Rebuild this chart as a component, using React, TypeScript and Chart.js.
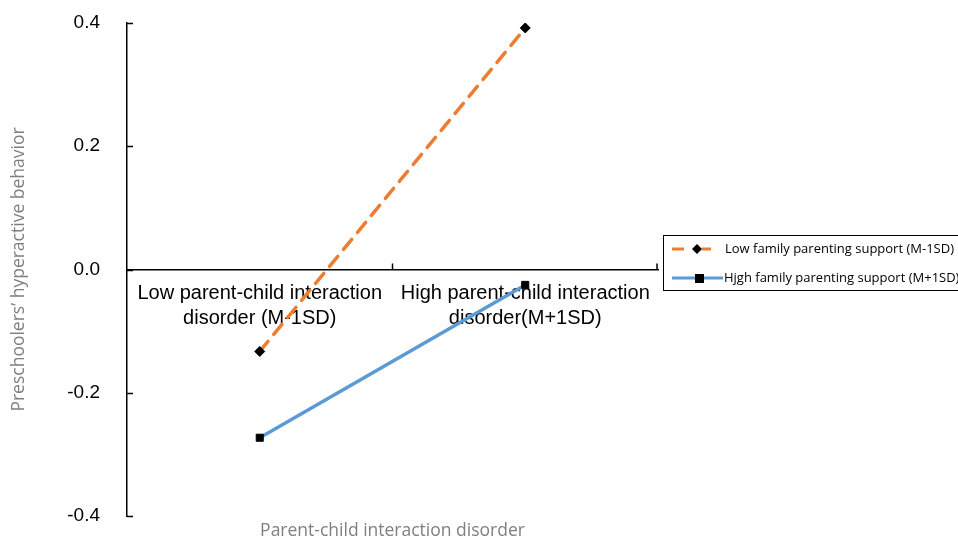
import React, { useEffect, useRef } from "react";
import { Chart, registerables } from "chart.js";

Chart.register(...registerables);

const categories: string[][] = [
  ["Low parent-child interaction", "disorder (M-1SD)"],
  ["High parent-child interaction", "disorder(M+1SD)"],
];
const lowSupport: number[] = [-0.133, 0.392];
const highSupport: number[] = [-0.273, -0.025];
const seriesNames: string[] = [
  "Low family parenting support (M-1SD)",
  "Hjgh family parenting support (M+1SD)",
];
const yTitle = "Preschoolers\u2019 hyperactive behavior";
const xTitle = "Parent-child interaction disorder";

const ORANGE = "#ED7D31";
const BLUE = "#5B9BD5";

const tickMarks = {
  id: "tickMarks",
  afterDraw(chart: any) {
    const ctx = chart.ctx;
    const x = chart.scales.x;
    const y = chart.scales.y;
    const area = chart.chartArea;
    ctx.save();
    ctx.strokeStyle = "#000";
    ctx.lineWidth = 1.5;
    y.ticks.forEach((t: any) => {
      const py = Math.round(y.getPixelForValue(t.value)) + 0.5;
      ctx.beginPath();
      ctx.moveTo(area.left, py);
      ctx.lineTo(area.left + 6, py);
      ctx.stroke();
    });
    const y0 = y.getPixelForValue(0);
    const p0 = x.getPixelForValue(0);
    const p1 = x.getPixelForValue(1);
    const bounds = [(p0 + p1) / 2, area.right - 1];
    bounds.forEach((bx) => {
      ctx.beginPath();
      ctx.moveTo(bx, y0);
      ctx.lineTo(bx, y0 - 6);
      ctx.stroke();
    });
    ctx.restore();
  },
};

const boxLegend = {
  id: "boxLegend",
  afterDraw(chart: any) {
    const ctx = chart.ctx;
    const area = chart.chartArea;
    const bx = area.right + 5;
    const by = 235;
    const bw = 330;
    const bh = 55;
    ctx.save();
    ctx.strokeStyle = "#000";
    ctx.lineWidth = 1;
    ctx.strokeRect(bx + 0.5, by + 0.5, bw, bh);
    ctx.font = "13px 'Open Sans'";
    ctx.textBaseline = "middle";
    ctx.fillStyle = "#000";
    const rows = [by + 14, by + 43];
    chart.data.datasets.forEach((ds: any, i: number) => {
      const ry = rows[i];
      ctx.strokeStyle = ds.borderColor;
      ctx.lineWidth = 3;
      ctx.lineCap = "butt";
      if (i === 0) {
        ctx.beginPath();
        ctx.moveTo(bx + 9, ry);
        ctx.lineTo(bx + 21, ry);
        ctx.moveTo(bx + 39, ry);
        ctx.lineTo(bx + 48, ry);
        ctx.stroke();
        ctx.fillStyle = "#000";
        ctx.beginPath();
        ctx.moveTo(bx + 29, ry);
        ctx.lineTo(bx + 34, ry - 5);
        ctx.lineTo(bx + 39, ry);
        ctx.lineTo(bx + 34, ry + 5);
        ctx.closePath();
        ctx.fill();
        ctx.fillText(ds.label, bx + 62, ry);
      } else {
        ctx.beginPath();
        ctx.moveTo(bx + 9, ry);
        ctx.lineTo(bx + 60, ry);
        ctx.stroke();
        ctx.fillStyle = "#000";
        ctx.fillRect(bx + 32, ry - 4, 9, 9);
        ctx.fillText(ds.label, bx + 61, ry);
      }
    });
    ctx.restore();
  },
};

export default function App() {
  const ref = useRef<HTMLCanvasElement | null>(null);
  useEffect(() => {
    if (!ref.current) return;
    const chart = new Chart(ref.current, {
      type: "line",
      data: {
        labels: categories as any,
        datasets: [
          {
            label: seriesNames[0],
            data: lowSupport,
            borderColor: ORANGE,
            backgroundColor: "#000",
            borderWidth: 3.5,
            borderDash: [13, 9],
            borderCapStyle: "round",
            pointStyle: "rectRot",
            pointRadius: 5,
            pointBackgroundColor: "#000",
            pointBorderColor: "#000",
            pointBorderWidth: 1,
            tension: 0,
          },
          {
            label: seriesNames[1],
            data: highSupport,
            borderColor: BLUE,
            backgroundColor: "#000",
            borderWidth: 3.5,
            pointStyle: "rect",
            pointRadius: 5,
            pointBackgroundColor: "#000",
            pointBorderColor: "#000",
            pointBorderWidth: 1,
            tension: 0,
          },
        ],
      },
      options: {
        animation: false,
        responsive: true,
        maintainAspectRatio: false,
        layout: { padding: { top: 23, right: 300, left: 0, bottom: 0 } },
        plugins: {
          legend: { display: false },
          tooltip: { enabled: false },
        },
        scales: {
          x: {
            type: "category",
            position: { y: 0 } as any,
            offset: true,
            grid: { display: false },
            border: { display: true, color: "#000", width: 1.5 },
            ticks: {
              color: "#000",
              font: { family: "'Liberation Sans', Arial, sans-serif", size: 20, lineHeight: 1.25 },
              padding: 3,
              maxRotation: 0,
              autoSkip: false,
            },
            afterFit(scale: any) {
              scale.paddingLeft = 0;
              scale.paddingRight = 0;
              scale.paddingTop = 0;
              scale.paddingBottom = 0;
            },
          },
          x2: {
            type: "category",
            position: "bottom",
            labels: ["a", "b"],
            grid: { display: false },
            border: { display: false },
            ticks: { display: false },
            title: {
              display: true,
              text: xTitle,
              color: "#7f7f7f",
              font: { family: "'Open Sans'", size: 17.5 },
              padding: { top: 0, bottom: 0 },
            },
            afterFit(scale: any) {
              scale.height = 26;
              scale.paddingLeft = 0;
              scale.paddingRight = 0;
            },
          },
          y: {
            min: -0.4,
            max: 0.4,
            grid: { display: false, drawTicks: false },
            border: { display: true, color: "#000", width: 1.5 },
            ticks: {
              stepSize: 0.2,
              color: "#000",
              padding: 27,
              font: { family: "'Liberation Sans', Arial, sans-serif", size: 19 },
              callback: (v: any) => Number(v).toFixed(1),
            },
            title: {
              display: true,
              text: yTitle,
              color: "#7f7f7f",
              font: { family: "'Open Sans'", size: 17.5 },
              padding: { top: 9, bottom: 0 },
            },
            afterFit(scale: any) {
              scale.width = 127;
              scale.paddingTop = 0;
              scale.paddingBottom = 0;
            },
          },
        },
      },
      plugins: [tickMarks, boxLegend],
    });
    return () => chart.destroy();
  }, []);
  return (
    <div style={{ position: "fixed", left: 0, top: 0, width: 958, height: 542, background: "#fff" }}>
      <canvas ref={ref} />
    </div>
  );
}
